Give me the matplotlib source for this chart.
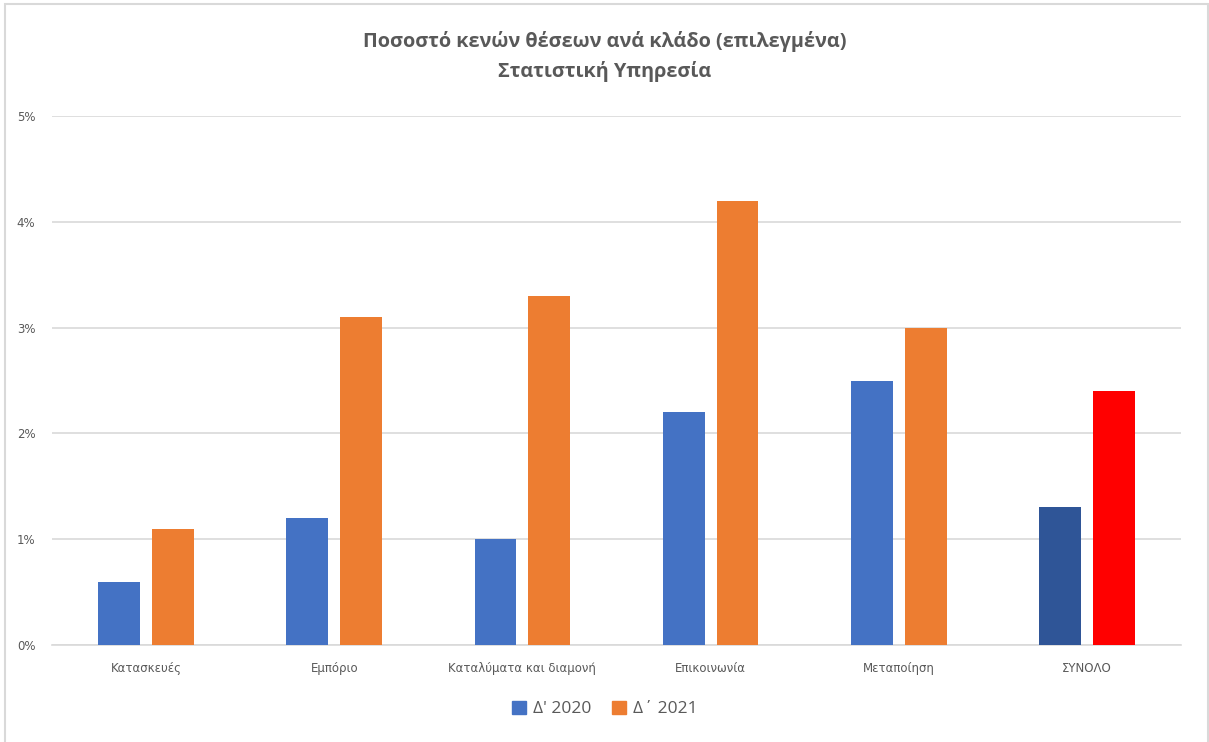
import matplotlib
matplotlib.use("Agg")
import matplotlib.pyplot as plt
from matplotlib.patches import Rectangle
import numpy as np

categories = ["Κατασκευές", "Εμπόριο", "Καταλύματα και διαμονή",
              "Επικοινωνία", "Μεταποίηση", "ΣΥΝΟΛΟ"]
q4_2020 = [0.6, 1.2, 1.0, 2.2, 2.5, 1.3]
q4_2021 = [1.1, 3.1, 3.3, 4.2, 3.0, 2.4]
series_labels = ["Δ' 2020", "Δ΄ 2021"]
y_ticks = [0, 1, 2, 3, 4, 5]

blue = "#4472C4"
orange = "#ED7D31"
total_blue = "#2F5597"
total_red = "#FF0000"
text_grey = "#595959"
grid_grey = "#D9D9D9"

W, H = 1209, 742
fig = plt.figure(figsize=(W / 100, H / 100), dpi=100)
fig.patch.set_facecolor("white")

# outer chart frame
fig.add_artist(Rectangle((5 / W, -0.05), 1203 / W, 1.05 - 4 / H,
                         transform=fig.transFigure, fill=False,
                         edgecolor="#D9D9D9", linewidth=1.5))

ax = fig.add_axes([52 / W, (H - 645) / H, (1181 - 52) / W, (645 - 116) / H])

x = np.arange(len(categories))
bw = 0.223
off = 0.143
c1 = [blue] * (len(categories) - 1) + [total_blue]
c2 = [orange] * (len(categories) - 1) + [total_red]
ax.bar(x - off, q4_2020, bw, color=c1, zorder=3)
ax.bar(x + off, q4_2021, bw, color=c2, zorder=3)

ax.set_xlim(-0.5, len(categories) - 0.5)
ax.set_ylim(0, 5)
ax.set_yticks(y_ticks)
ax.set_yticklabels([f"{t}%" for t in y_ticks])
ax.set_xticks(x)
ax.set_xticklabels(categories)
ax.yaxis.grid(True, color=grid_grey, linewidth=1.2, zorder=0)
ax.set_axisbelow(True)
for s in ["top", "right", "left"]:
    ax.spines[s].set_visible(False)
ax.spines["bottom"].set_color(grid_grey)
ax.spines["bottom"].set_linewidth(1.2)
ax.tick_params(axis="both", length=0, colors=text_grey, labelsize=8.5)
ax.tick_params(axis="x", pad=12)
ax.tick_params(axis="y", pad=12)
for lbl in ax.get_xticklabels() + ax.get_yticklabels():
    lbl.set_fontfamily(["Liberation Sans Narrow", "DejaVu Sans"])

fig.text(0.5, (H - 42) / H, "Ποσοστό κενών θέσεων ανά κλάδο (επιλεγμένα)",
         ha="center", va="center", fontsize=14.3, fontweight="bold",
         color=text_grey, family=["Open Sans", "DejaVu Sans"])
fig.text(0.5, (H - 71) / H, "Στατιστική Υπηρεσία",
         ha="center", va="center", fontsize=14.3, fontweight="bold",
         color=text_grey, family=["Open Sans", "DejaVu Sans"])

handles = [Rectangle((0, 0), 1, 1, color=blue), Rectangle((0, 0), 1, 1, color=orange)]
leg = fig.legend(handles, series_labels, loc="center", ncol=2,
                 bbox_to_anchor=(0.5, (H - 709) / H), frameon=False,
                 handlelength=0.8, handleheight=0.8, handletextpad=0.4,
                 columnspacing=1.2,
                 prop={"family": ["Open Sans", "DejaVu Sans"], "size": 12.5})
for t in leg.get_texts():
    t.set_color(text_grey)

fig.savefig("out.png", dpi=100)
